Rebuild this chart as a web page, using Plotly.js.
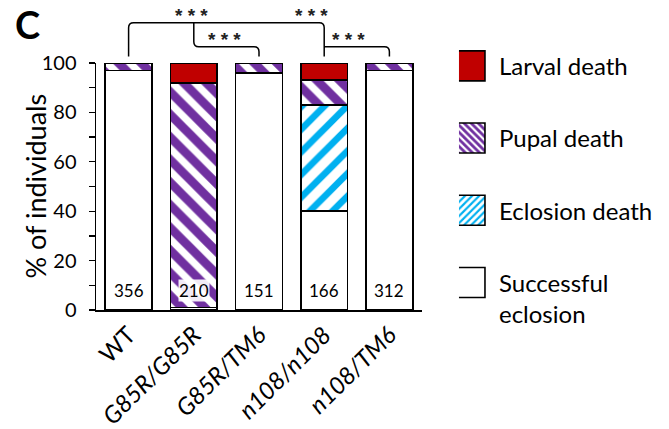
<!DOCTYPE html>
<html>
<head>
<meta charset="utf-8">
<script src="https://cdn.plot.ly/plotly-3.0.1.min.js"></script>
<style>
  html, body { margin: 0; padding: 0; background: #fff; }
  #chart { width: 669px; height: 429px; }
</style>
</head>
<body>
<div id="chart"></div>
<script>
// Genotypes along the x axis
const genotypes = ['WT', 'G85R/G85R', 'G85R/TM6', 'n108/n108', 'n108/TM6'];
const tickLabels = ['WT', '<i>G85R/G85R</i>', '<i>G85R/TM6</i>', '<i>n108/n108</i>', '<i>n108/TM6</i>'];

// Percentage of individuals at each outcome (stacked bottom to top)
const successfulEclosion = [97, 1, 96, 40, 97];
const eclosionDeath      = [0, 0, 0, 43, 0];
const pupalDeath         = [3, 91, 4, 10, 3];
const larvalDeath        = [0, 8, 0, 7, 0];

// Number of individuals scored per genotype
const sampleSizes = [356, 210, 151, 166, 312];

const sigLabel = '<b>* * *</b>';

const FONT = 'Lato, "Open Sans", sans-serif';
const PURPLE = '#7030A0';
const BLUE = '#00B0F0';
const RED = '#C00000';
const outline = { color: '#000', width: 1.6 };

function stack(name, values, marker, rank) {
  return {
    type: 'bar', name: name, x: genotypes, y: values,
    legendgroup: 'g' + rank, legendrank: rank,
    marker: Object.assign({ line: outline }, marker),
    hoverinfo: 'skip'
  };
}

const traces = [
  stack('Successful<br>eclosion', successfulEclosion, { color: '#fff' }, 4),
  stack('Eclosion death', eclosionDeath, {
    color: BLUE,
    pattern: { shape: '/', fgcolor: BLUE, bgcolor: '#fff', size: 16, solidity: 0.42 }
  }, 3),
  stack('Pupal death', pupalDeath, {
    color: PURPLE,
    pattern: { shape: '\\', fgcolor: PURPLE, bgcolor: '#fff', size: 16, solidity: 0.55 }
  }, 2),
  stack('Larval death', larvalDeath, { color: RED }, 1)
];

// Sample-size labels near the base of each bar
const annotations = genotypes.map((g, i) => ({
  x: g, y: 8, xref: 'x', yref: 'y', text: String(sampleSizes[i]),
  showarrow: false, font: { family: FONT, size: 17, color: '#000' },
  bgcolor: 'rgba(255,255,255,0.9)', borderpad: 0
}));

// Star labels over the comparison brackets
const starSpots = [[0.97, 1.237], [2.80, 1.237], [1.47, 1.142], [3.38, 1.142]];
starSpots.forEach(([xi, yp]) => annotations.push({
  x: xi, y: yp, xref: 'x', yref: 'paper', text: sigLabel, showarrow: false,
  font: { family: '"Liberation Sans", sans-serif', size: 19, color: '#222' },
  yanchor: 'top', borderpad: 0
}));

// Y axis title
annotations.push({
  x: -0.187, y: 0.5, xref: 'paper', yref: 'paper', text: '% of individuals',
  textangle: -90, showarrow: false, xanchor: 'center', yanchor: 'middle',
  font: { family: FONT, size: 27, color: '#000' }
});

// Panel letter
annotations.push({
  x: -0.255, y: 1.157, xref: 'paper', yref: 'paper', text: '<b>C</b>',
  showarrow: false, xanchor: 'left', yanchor: 'middle',
  font: { family: FONT, size: 38, color: '#000' }
});

// Bracket geometry (paper coordinates; category i sits at (i+0.5)/n)
const n = genotypes.length;
const xp = i => (i + 0.5) / n;
const yTop = 1.163, yMid = 1.066, yLeg = 1.026;
const rx = 5 / 327, ry = 5 / 247;
const bracketPath =
  `M${xp(0)},${yLeg} L${xp(0)},${yTop - ry} Q${xp(0)},${yTop} ${xp(0) + rx},${yTop} ` +
  `L${xp(3) - rx},${yTop} Q${xp(3)},${yTop} ${xp(3)},${yTop - ry} L${xp(3)},${yLeg} ` +
  `M${xp(1)},${yTop} L${xp(1)},${yMid + ry} Q${xp(1)},${yMid} ${xp(1) + rx},${yMid} ` +
  `L${xp(2) - rx},${yMid} Q${xp(2)},${yMid} ${xp(2)},${yMid - ry} L${xp(2)},${yLeg} ` +
  `M${xp(3)},${yMid} L${xp(4) - rx},${yMid} Q${xp(4)},${yMid} ${xp(4)},${yMid - ry} L${xp(4)},${yLeg}`;

const layout = {
  width: 669, height: 429,
  margin: { l: 96, r: 246, t: 63, b: 119 },
  paper_bgcolor: '#fff', plot_bgcolor: '#fff',
  barmode: 'stack', bargap: 0.28,
  font: { family: FONT, color: '#000' },
  showlegend: true,
  legend: {
    x: 1.11, y: 1.078, xanchor: 'left', yanchor: 'top',
    traceorder: 'grouped', tracegroupgap: 38, valign: 'top',
    maxheight: 420,
    font: { family: FONT, size: 24, color: '#000' },
    bgcolor: 'rgba(0,0,0,0)', itemclick: false, itemdoubleclick: false
  },
  xaxis: {
    type: 'category', range: [-0.5, 4.5],
    tickvals: genotypes, ticktext: tickLabels, tickangle: -45,
    showline: true, linecolor: '#000', linewidth: 1.5,
    ticks: '', showgrid: false, zeroline: false, fixedrange: true,
    tickfont: { family: FONT, size: 24, color: '#000' }
  },
  yaxis: {
    range: [0, 100], dtick: 20, tick0: 0,
    showline: true, linecolor: '#000', linewidth: 1.5,
    ticks: 'outside', ticklen: 6, tickwidth: 1.3, tickcolor: '#000',
    ticklabelstandoff: 8,
    minor: { dtick: 10, ticks: 'outside', ticklen: 6, tickwidth: 1.3, tickcolor: '#000' },
    showgrid: false, zeroline: false, fixedrange: true,
    tickfont: { family: FONT, size: 20, color: '#000' }
  },
  shapes: [{
    type: 'path', xref: 'paper', yref: 'paper', path: bracketPath,
    line: { color: '#000', width: 1.5 }, layer: 'above'
  }],
  annotations: annotations
};

const gd = document.getElementById('chart');
Plotly.newPlot(gd, traces, layout, { staticPlot: true }).then(() => {
  // Enlarge the legend swatches to wide square keys
  gd.querySelectorAll('.legend .legendpoints path').forEach(p => {
    p.setAttribute('d', 'M6,15H-24V-15H6Z');
    p.style.strokeWidth = '1.6px';
    p.style.stroke = '#000';
  });
  // Finer hatching inside the legend keys
  gd.querySelectorAll('pattern[id*="legend"]').forEach(pt => {
    pt.setAttribute('patternTransform', 'scale(0.5)');
  });
});
</script>
</body>
</html>
